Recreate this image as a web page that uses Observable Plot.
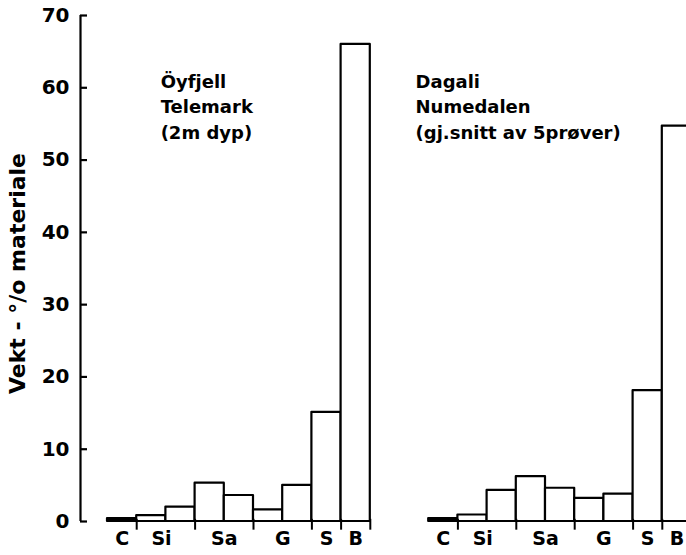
<!DOCTYPE html>
<html><head><meta charset="utf-8">
<script src="https://cdn.jsdelivr.net/npm/d3@7"></script>
<script src="https://cdn.jsdelivr.net/npm/@observablehq/plot@0.6"></script>
<style>
html,body{margin:0;padding:0;background:#fff;overflow:hidden;}
#chart svg{display:block;}
</style></head><body><div id="chart"></div>
<script>
// ---- data ----
const bins = ["C","Si","Si","Sa","Sa","G","G","S","B"];
const oyfjell = [0.4, 0.8, 2.0, 5.3, 3.6, 1.6, 5.0, 15.1, 66.0];
const dagali  = [0.4, 0.9, 4.3, 6.2, 4.6, 3.2, 3.8, 18.1, 54.7];
const panelSeries = [oyfjell, dagali];
const panelTitles = [
  ["Öyfjell", "Telemark", "(2m dyp)"],
  ["Dagali", "Numedalen", "(gj.snitt av 5prøver)"]
];
const groupLabels  = ["C", "Si", "Sa", "G", "S", "B"];
const groupCenters = [0.5, 1.85, 4, 6, 7.5, 8.5];   // in bin units
const groupBounds  = [1, 3, 5, 7, 8, 9];            // bin edges with a tick
const yTicks = [0, 10, 20, 30, 40, 50, 60, 70];
const yLabel = "Vekt - °/o materiale";

// ---- layout ----
const W = 686, H = 555;
const mL = 80, mT = 15, mB = 34;
const unit = 29.2;          // px per bin
const firstBinPx = 107;     // px of first bin edge
const panelGap = 11;        // panel offset in bins
const xDomain = [-(firstBinPx - mL) / unit, (W - firstBinPx) / unit];

const rows = [];
panelSeries.forEach((vals, p) => vals.forEach((v, i) => rows.push({
  x1: p * panelGap + i, x2: p * panelGap + i + 1, value: v, bin: bins[i], panel: p
})));
const tickRows = [], labelRows = [], titleRows = [];
panelSeries.forEach((_, p) => {
  groupBounds.forEach(b => tickRows.push({x: p * panelGap + b}));
  groupLabels.forEach((t, i) => labelRows.push({x: p * panelGap + groupCenters[i], text: t}));
  titleRows.push({panel: p, text: panelTitles[p].join("\n")});
});

const font = "'DejaVu Sans', sans-serif";
const chart = Plot.plot({
  width: W, height: H,
  marginLeft: mL, marginRight: 0, marginTop: mT, marginBottom: mB,
  style: {fontFamily: font, fontWeight: "bold", fontSize: "20px", color: "black", background: "white"},
  x: {domain: xDomain, axis: null},
  y: {domain: [0, 70], ticks: yTicks, tickSize: 0, tickPadding: 11, label: null, tickFormat: d => String(d)},
  marks: [
    Plot.rect(rows, {
      x1: "x1", x2: "x2", y1: 0, y2: "value",
      fill: d => d.bin === "C" ? "black" : "white",
      stroke: "black", strokeWidth: 2.2, strokeLinejoin: "round"
    }),
    Plot.ruleX([xDomain[0]], {y1: 0, y2: 70, stroke: "black", strokeWidth: 2.2}),
    Plot.ruleY(yTicks, {y: d => d, x1: xDomain[0], x2: xDomain[0] + 7 / unit, stroke: "black", strokeWidth: 2.2}),
    Plot.ruleX(tickRows, {x: "x", y1: 0.3, y2: -1.2, stroke: "black", strokeWidth: 2}),
    Plot.text(labelRows, {x: "x", text: "text", frameAnchor: "bottom", dy: 23, fontSize: 19, fill: "black"}),
    Plot.text(titleRows, {
      x: d => d.panel * panelGap + (d.panel === 0 ? 1.82 : -0.45),
      y: 57.6, text: "text", textAnchor: "start", lineAnchor: "middle",
      lineHeight: 1.42, fontSize: 18, fill: "black"
    }),
    Plot.text([yLabel], {text: d => d, frameAnchor: "left", textAnchor: "middle", lineAnchor: "middle", rotate: -90, dx: -63, dy: 5, fontSize: 22, fill: "black"})
  ]
});
document.getElementById("chart").appendChild(chart);
</script>
</body></html>
